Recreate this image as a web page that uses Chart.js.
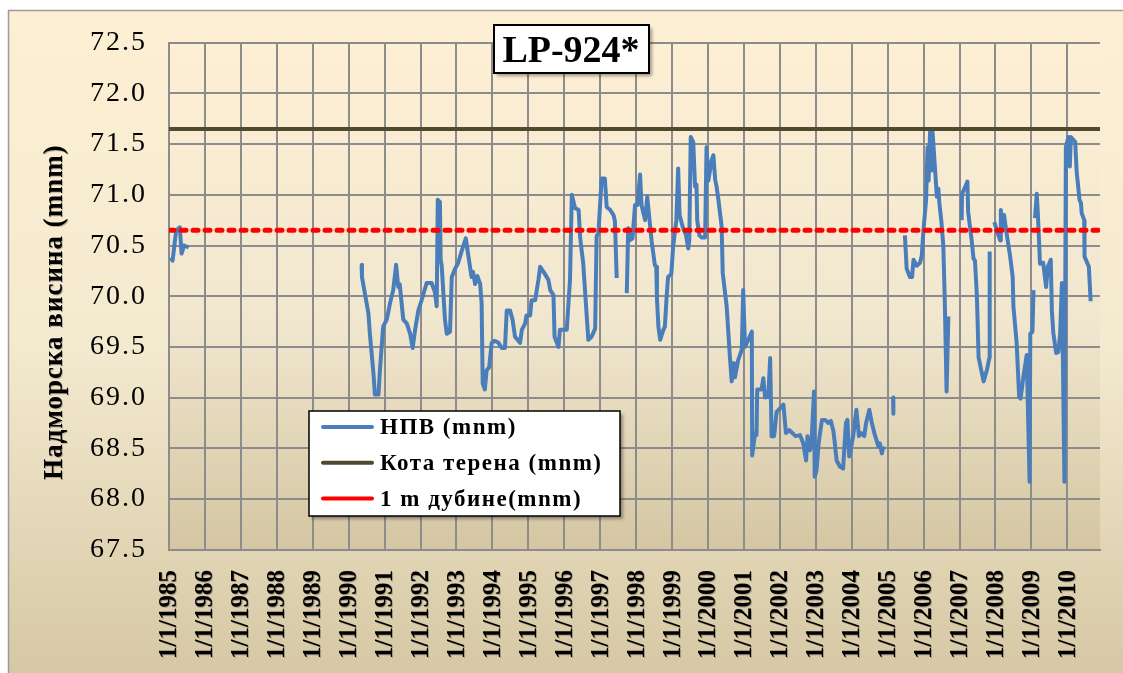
<!DOCTYPE html>
<html>
<head>
<meta charset="utf-8">
<script src="https://cdn.jsdelivr.net/npm/chart.js@4.4.1/dist/chart.umd.min.js"></script>
<style>
  html, body { margin: 0; padding: 0; background: #fff; }
  canvas { display: block; }
</style>
</head>
<body>
<canvas id="chartLP" width="1123" height="673"></canvas>
<script>
// Naslov i oznake
const chartTitle = 'LP-924*';
const yAxisTitle = 'Надморска висина (mnm)';
const seriesNames = ['НПВ (mnm)', 'Кота терена (mnm)', '1 m дубине(mnm)'];

// Podeoci osa
const tickYears = [1985, 1986, 1987, 1988, 1989, 1990, 1991, 1992, 1993, 1994, 1995, 1996, 1997,
                   1998, 1999, 2000, 2001, 2002, 2003, 2004, 2005, 2006, 2007, 2008, 2009, 2010];
const tickLabels = ['1/1/1985', '1/1/1986', '1/1/1987', '1/1/1988', '1/1/1989', '1/1/1990', '1/1/1991',
                    '1/1/1992', '1/1/1993', '1/1/1994', '1/1/1995', '1/1/1996', '1/1/1997', '1/1/1998',
                    '1/1/1999', '1/1/2000', '1/1/2001', '1/1/2002', '1/1/2003', '1/1/2004', '1/1/2005',
                    '1/1/2006', '1/1/2007', '1/1/2008', '1/1/2009', '1/1/2010'];
const yTicks = [67.5, 68.0, 68.5, 69.0, 69.5, 70.0, 70.5, 71.0, 71.5, 72.0, 72.5];

// Nivo podzemne vode (datum kao decimalna godina), null = prekid merenja
const hpvDates = [
  1985.05, 1985.10, 1985.20, 1985.30, 1985.35, 1985.42, 1985.55, 1988.00,
  1990.36, 1990.37, 1990.45, 1990.55, 1990.59, 1990.69, 1990.73, 1990.83, 1990.87, 1990.96,
  1991.06, 1991.15, 1991.24, 1991.32, 1991.38, 1991.42, 1991.52, 1991.62, 1991.71, 1991.78,
  1991.85, 1991.94, 1992.03, 1992.17, 1992.31, 1992.40, 1992.45, 1992.48, 1992.54, 1992.56,
  1992.59, 1992.68, 1992.73, 1992.82, 1992.87, 1992.96, 1993.05, 1993.14, 1993.26, 1993.33,
  1993.42, 1993.46, 1993.52, 1993.58, 1993.66, 1993.70, 1993.73, 1993.79, 1993.84, 1993.91,
  1993.98, 1994.06, 1994.17, 1994.26, 1994.35, 1994.40, 1994.49, 1994.56, 1994.63, 1994.70,
  1994.77, 1994.82, 1994.91, 1994.95, 1995.05, 1995.09, 1995.19, 1995.28, 1995.33, 1995.46,
  1995.56, 1995.61, 1995.70, 1995.73, 1995.84, 1995.88, 1996.07, 1996.16, 1996.21, 1996.30,
  1996.40, 1996.44, 1996.48, 1996.53, 1996.56, 1996.67, 1996.76, 1996.86, 1996.90, 1996.95,
  1997.04, 1997.13, 1997.18, 1997.28, 1997.37, 1997.41, 1997.46, 1997.60,
  1997.74, 1997.78, 1997.82, 1997.90, 1997.97, 1998.04, 1998.11, 1998.15, 1998.25, 1998.31,
  1998.36, 1998.43, 1998.52, 1998.56, 1998.58, 1998.62, 1998.67, 1998.76, 1998.80, 1998.85,
  1998.89, 1998.98, 1999.03, 1999.12, 1999.17, 1999.21, 1999.30, 1999.39, 1999.45, 1999.48,
  1999.52, 1999.59, 1999.64, 1999.68, 1999.70, 1999.76, 1999.82, 1999.92, 1999.96, 2000.01,
  2000.10, 2000.15, 2000.20, 2000.24, 2000.29, 2000.38, 2000.41, 2000.52, 2000.61, 2000.66,
  2000.72, 2000.75, 2000.84, 2000.94, 2000.98, 2001.03, 2001.12, 2001.22, 2001.23, 2001.31,
  2001.35, 2001.37, 2001.49, 2001.54, 2001.59, 2001.68, 2001.73, 2001.77, 2001.84, 2001.91,
  2002.05, 2002.10, 2002.17, 2002.26, 2002.35, 2002.44, 2002.56, 2002.65, 2002.73, 2002.77,
  2002.84, 2002.89, 2002.95, 2002.97, 2003.02, 2003.08, 2003.17, 2003.26, 2003.35, 2003.42,
  2003.49, 2003.53, 2003.58, 2003.67, 2003.76, 2003.84, 2003.88, 2003.93, 2003.99, 2004.04,
  2004.13, 2004.20, 2004.26, 2004.35, 2004.40, 2004.49, 2004.56, 2004.63, 2004.74, 2004.78,
  2004.84, 2004.88, 2005.00, 2005.15, 2005.16, 2005.30,
  2005.48, 2005.53, 2005.62, 2005.68, 2005.72, 2005.81, 2005.90, 2005.95, 2005.99, 2006.07,
  2006.11, 2006.14, 2006.18, 2006.22, 2006.25, 2006.37, 2006.41, 2006.44, 2006.50, 2006.55,
  2006.59, 2006.64, 2006.69, 2006.85,
  2007.06, 2007.07, 2007.15, 2007.22, 2007.24, 2007.34, 2007.39, 2007.43, 2007.48, 2007.50,
  2007.53, 2007.67, 2007.76, 2007.83, 2007.84, 2007.90,
  2007.97, 2008.04, 2008.13, 2008.15, 2008.20, 2008.24, 2008.31, 2008.41, 2008.48, 2008.50,
  2008.59, 2008.66, 2008.70, 2008.78, 2008.87, 2008.95, 2008.97, 2009.03, 2009.06, 2009.08,
  2009.10, 2009.15, 2009.18, 2009.24, 2009.33, 2009.41, 2009.46, 2009.54, 2009.57, 2009.61,
  2009.69, 2009.75, 2009.80, 2009.85, 2009.92, 2009.96, 2010.03, 2010.07, 2010.10, 2010.22,
  2010.26, 2010.34, 2010.38, 2010.40, 2010.47, 2010.48, 2010.60, 2010.65
];
const hpvLevels = [
  70.38, 70.35, 70.65, 70.68, 70.42, 70.50, 70.48, null,
  70.31, 70.19, 70.03, 69.83, 69.63, 69.24, 69.03, 69.03, 69.27, 69.70,
  69.77, 69.93, 70.06, 70.31, 70.09, 70.12, 69.77, 69.73, 69.63, 69.49,
  69.67, 69.86, 69.96, 70.13, 70.13, 70.04, 69.90, 70.95, 70.93, 70.36,
  70.30, 69.77, 69.63, 69.65, 70.19, 70.27, 70.33, 70.44, 70.57, 70.40,
  70.19, 70.24, 70.12, 70.20, 70.12, 69.93, 69.14, 69.08, 69.27, 69.30,
  69.54, 69.56, 69.54, 69.49, 69.49, 69.86, 69.86, 69.77, 69.60, 69.57,
  69.54, 69.67, 69.73, 69.81, 69.81, 69.96, 69.96, 70.16, 70.29, 70.22,
  70.16, 70.06, 70.01, 69.60, 69.50, 69.67, 69.67, 70.16, 71.00, 70.87,
  70.85, 70.59, 70.46, 70.32, 70.15, 69.57, 69.60, 69.68, 70.59, 70.62,
  71.16, 71.16, 70.88, 70.85, 70.80, 70.74, 70.18, null,
  70.03, 70.67, 70.55, 70.57, 70.90, 70.90, 71.20, 70.90, 70.75, 70.98,
  70.80, 70.55, 70.31, 70.29, 69.98, 69.70, 69.57, 69.67, 69.70, 70.00,
  70.19, 70.22, 70.49, 70.75, 71.26, 70.80, 70.68, 70.60, 70.47, 70.55,
  71.57, 71.52, 71.08, 71.10, 70.75, 70.60, 70.58, 70.58, 71.47, 71.14,
  71.34, 71.39, 71.15, 71.08, 70.95, 70.69, 70.23, 69.90, 69.40, 69.16,
  69.34, 69.20, 69.37, 69.47, 70.06, 69.50, 69.57, 69.65, 68.43, 68.65,
  68.63, 69.08, 69.08, 69.19, 69.00, 69.01, 69.39, 68.62, 68.62, 68.86,
  68.91, 68.93, 68.65, 68.68, 68.65, 68.62, 68.63, 68.55, 68.38, 68.62,
  68.48, 68.62, 69.06, 68.22, 68.28, 68.55, 68.78, 68.78, 68.75, 68.77,
  68.67, 68.55, 68.38, 68.32, 68.30, 68.75, 68.78, 68.42, 68.52, 68.62,
  68.88, 68.62, 68.65, 68.62, 68.75, 68.88, 68.75, 68.65, 68.52, 68.55,
  68.45, 68.52, null, 69.00, 68.84, null,
  70.60, 70.27, 70.19, 70.19, 70.36, 70.30, 70.33, 70.40, 70.62, 70.95,
  71.47, 71.14, 71.62, 71.24, 71.62, 70.98, 71.06, 70.92, 70.72, 70.49,
  69.96, 69.06, 69.80, null,
  70.75, 71.01, 71.07, 71.13, 70.83, 70.55, 70.37, 70.35, 70.03, 69.80,
  69.40, 69.16, 69.27, 69.39, 70.44, null,
  70.73, 70.65, 70.55, 70.85, 70.68, 70.80, 70.62, 70.39, 70.19, 69.90,
  69.54, 69.01, 68.99, 69.21, 69.42, 68.17, 69.63, 69.65, 70.06, null,
  70.77, 71.01, 70.82, 70.32, 70.33, 70.09, 70.29, 70.36, 69.86, 69.64,
  69.44, 69.45, 69.63, 70.13, 68.17, 71.47, 71.57, 71.28, 71.57, 71.52,
  71.23, 70.95, 70.92, 70.82, 70.75, 70.39, 70.29, 69.95
];

// Kota terena i granica od 1 m dubine
const refDates = [1985, 2010.91];
const terrainLevels = [71.65, 71.65];
const depthLevels = [70.65, 70.65];

const SERIF = '"Liberation Serif", "Times New Roman", serif';
const GRID = '#8c8c8c';

// Pozadina celog grafika i oblasti crtanja
const backdrop = {
    id: 'backdrop',
    beforeDraw(chart) {
        const { ctx, chartArea: a, width, height } = chart;
        ctx.save();
        ctx.fillStyle = '#fff';
        ctx.fillRect(0, 0, width, height);
        let g = ctx.createLinearGradient(0, 10, 0, height);
        g.addColorStop(0, '#FDEFD3');
        g.addColorStop(0.5, '#F4EAD0');
        g.addColorStop(1, '#D6C8A4');
        ctx.fillStyle = g;
        ctx.fillRect(8, 10, width, height);
        ctx.strokeStyle = '#9a9a9a';
        ctx.lineWidth = 1.5;
        ctx.strokeRect(8.5, 10.5, width + 20, height + 20);
        g = ctx.createLinearGradient(0, a.top, 0, a.bottom);
        g.addColorStop(0, '#FDEFD4');
        g.addColorStop(0.55, '#F1E7CF');
        g.addColorStop(1, '#D4C6A2');
        ctx.fillStyle = g;
        ctx.fillRect(a.left, a.top, a.right - a.left, a.bottom - a.top);
        ctx.restore();
        // razmak slova za brojeve na y osi
        ctx.letterSpacing = '2px';
    },
    beforeDatasetsDraw(chart) {
        chart.ctx.letterSpacing = '0px';
    }
};

// Naslov, legenda, oznake x ose i naslov y ose
const overlay = {
    id: 'overlay',
    afterDraw(chart) {
        const { ctx } = chart;
        const xs = chart.scales.x;

        ctx.save();
        // oznake godina, rotirane
        ctx.fillStyle = '#000';
        ctx.font = 'bold 25px ' + SERIF;
        ctx.textAlign = 'right';
        ctx.textBaseline = 'middle';
        ctx.shadowColor = 'rgba(0,0,0,0.25)';
        ctx.shadowOffsetX = 1;
        ctx.shadowOffsetY = 1;
        xs.ticks.forEach((t, i) => {
            const x = xs.getPixelForValue(t.value);
            ctx.save();
            ctx.translate(x + 1, 570);
            ctx.rotate(-Math.PI / 2);
            ctx.fillText(tickLabels[i], 0, 0);
            ctx.restore();
        });

        // naslov y ose
        ctx.save();
        ctx.font = 'bold 27px ' + SERIF;
        ctx.letterSpacing = '1px';
        ctx.textAlign = 'center';
        ctx.translate(55, 312);
        ctx.rotate(-Math.PI / 2);
        ctx.fillText(yAxisTitle, 0, 0);
        ctx.restore();
        ctx.restore();

        // okvir naslova
        ctx.save();
        ctx.shadowColor = 'rgba(0,0,0,0.35)';
        ctx.shadowOffsetX = 3;
        ctx.shadowOffsetY = 3;
        ctx.shadowBlur = 3;
        ctx.fillStyle = '#fff';
        ctx.fillRect(494, 25, 155, 48);
        ctx.shadowColor = 'transparent';
        ctx.strokeStyle = '#000';
        ctx.lineWidth = 2;
        ctx.strokeRect(494, 25, 155, 48);
        ctx.fillStyle = '#000';
        ctx.font = 'bold 38px ' + SERIF;
        ctx.textAlign = 'center';
        ctx.textBaseline = 'alphabetic';
        ctx.fillText(chartTitle, 571, 62);
        ctx.restore();

        // legenda
        ctx.save();
        ctx.shadowColor = 'rgba(0,0,0,0.35)';
        ctx.shadowOffsetX = 3;
        ctx.shadowOffsetY = 3;
        ctx.shadowBlur = 3;
        ctx.fillStyle = '#fff';
        ctx.fillRect(309, 411, 311, 105);
        ctx.shadowColor = 'transparent';
        ctx.strokeStyle = '#000';
        ctx.lineWidth = 1.5;
        ctx.strokeRect(309, 411, 311, 105);
        ctx.font = 'bold 23px ' + SERIF;
        ctx.letterSpacing = '1.5px';
        ctx.textBaseline = 'middle';
        chart.data.datasets.forEach((ds, i) => {
            const y = 427 + i * 35.8;
            ctx.strokeStyle = ds.borderColor;
            ctx.lineWidth = 4;
            ctx.lineCap = 'round';
            ctx.beginPath();
            ctx.moveTo(323, y);
            ctx.lineTo(372, y);
            ctx.stroke();
            ctx.fillStyle = '#000';
            ctx.fillText(ds.label, 380, y + 1);
        });
        ctx.restore();
    }
};

function toPoints(xs, ys) {
    return xs.map((x, i) => ({ x: x, y: ys[i] }));
}

const ctx = document.getElementById('chartLP').getContext('2d');
new Chart(ctx, {
    type: 'line',
    data: {
        datasets: [{
            label: seriesNames[0],
            data: toPoints(hpvDates, hpvLevels),
            borderColor: '#4A7EBB',
            borderWidth: 4,
            spanGaps: false,
            order: 3
        }, {
            label: seriesNames[1],
            data: toPoints(refDates, terrainLevels),
            borderColor: '#4F4A2F',
            borderWidth: 4,
            order: 2
        }, {
            label: seriesNames[2],
            data: toPoints(refDates, depthLevels),
            borderColor: '#FF0000',
            borderWidth: 5,
            borderDash: [5, 7],
            borderCapStyle: 'round',
            order: 1
        }]
    },
    options: {
        responsive: false,
        animation: false,
        events: [],
        layout: { padding: { top: 42.7, right: 23, left: 0, bottom: 0 } },
        elements: {
            point: { radius: 0 },
            line: { tension: 0, borderJoinStyle: 'round' }
        },
        plugins: {
            legend: { display: false },
            title: { display: false },
            tooltip: { enabled: false }
        },
        scales: {
            x: {
                type: 'linear',
                min: 1985,
                max: 2010.91,
                afterBuildTicks: s => { s.ticks = tickYears.map(v => ({ value: v })); },
                afterFit: s => { s.height = 123.3; },
                ticks: { display: false },
                grid: { color: GRID, lineWidth: 2, drawTicks: false },
                border: { color: GRID, width: 2 }
            },
            y: {
                min: 67.5,
                max: 72.5,
                afterBuildTicks: s => { s.ticks = yTicks.map(v => ({ value: v })); },
                afterFit: s => { s.width = 169; },
                ticks: {
                    callback: v => Number(v).toFixed(1),
                    color: '#000',
                    padding: 22,
                    font: { family: SERIF, size: 28 }
                },
                grid: { color: GRID, lineWidth: 2, drawTicks: false },
                border: { color: GRID, width: 2 }
            }
        }
    },
    plugins: [backdrop, overlay]
});
</script>
</body>
</html>
